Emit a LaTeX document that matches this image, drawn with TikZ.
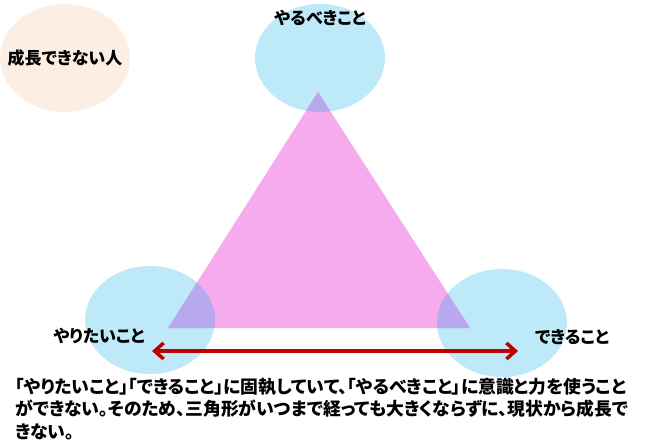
\documentclass[tikz,border=0pt]{standalone}
\usepackage{fontspec}
\newfontfamily\jp{Noto Sans CJK JP}[RawFeature=+palt]
\usepackage{tikz}
\usetikzlibrary{positioning,shapes.geometric,arrows.meta}

\definecolor{sky}{HTML}{BEE9F8}
\definecolor{peach}{HTML}{FDEEE3}
\definecolor{tri}{HTML}{F6ABEF}
\definecolor{mix}{HTML}{B8A9EF}
\definecolor{darkred}{HTML}{C00000}

\begin{document}
\begin{tikzpicture}[
    x=1pt, y=-1pt,
    every node/.style={font=\jp\bfseries\fontsize{17}{20}\selectfont, inner sep=0pt},
    blob/.style={ellipse, fill=sky, minimum width=130pt, minimum height=108pt},
    arr/.style={{Straight Barb[length=9pt,width=16pt]}-{Straight Barb[length=9pt,width=16pt]}, line width=3.5pt, darkred}
]
\useasboundingbox (0,0) rectangle (664,447);

% ellipses
\node[blob, fill=peach] (person) at (65,58) {};
\node[blob] (top) at (320,58) {};
\node[blob] (left) at (150,320) {};
\node[blob] (right) at (502,323) {};

% triangle
\coordinate (ta) at (318,92);
\coordinate (tl) at (168,328);
\coordinate (tr) at (470,328);
\fill[tri] (ta) -- (tl) -- (tr) -- cycle;
\foreach \e in {top,left,right}{
  \begin{scope}
    \clip (\e) ellipse [x radius=65pt, y radius=54pt];
    \fill[mix] (ta) -- (tl) -- (tr) -- cycle;
  \end{scope}
}

% labels
\node at (person.center) {成長できない人};
\node at (320,18) {やるべきこと};
\node (want) at (99,336) {やりたいこと};
\node (can) at (572,337) {できること};

% arrow
\coordinate (al) at (152,351);
\coordinate (ar) at (518,351);
\draw[arr] (al) -- (ar);

% note
\node[anchor=north west, align=left, font=\jp\bfseries\fontsize{17.8}{22.5}\selectfont] (note) at (15,378)
    {「やりたいこと」「できること」に固執していて、「やるべきこと」に意識と力を使うこと\\
     ができない。そのため、三角形がいつまで経っても大きくならずに、現状から成長で\\
     きない。};
\end{tikzpicture}
\end{document}
